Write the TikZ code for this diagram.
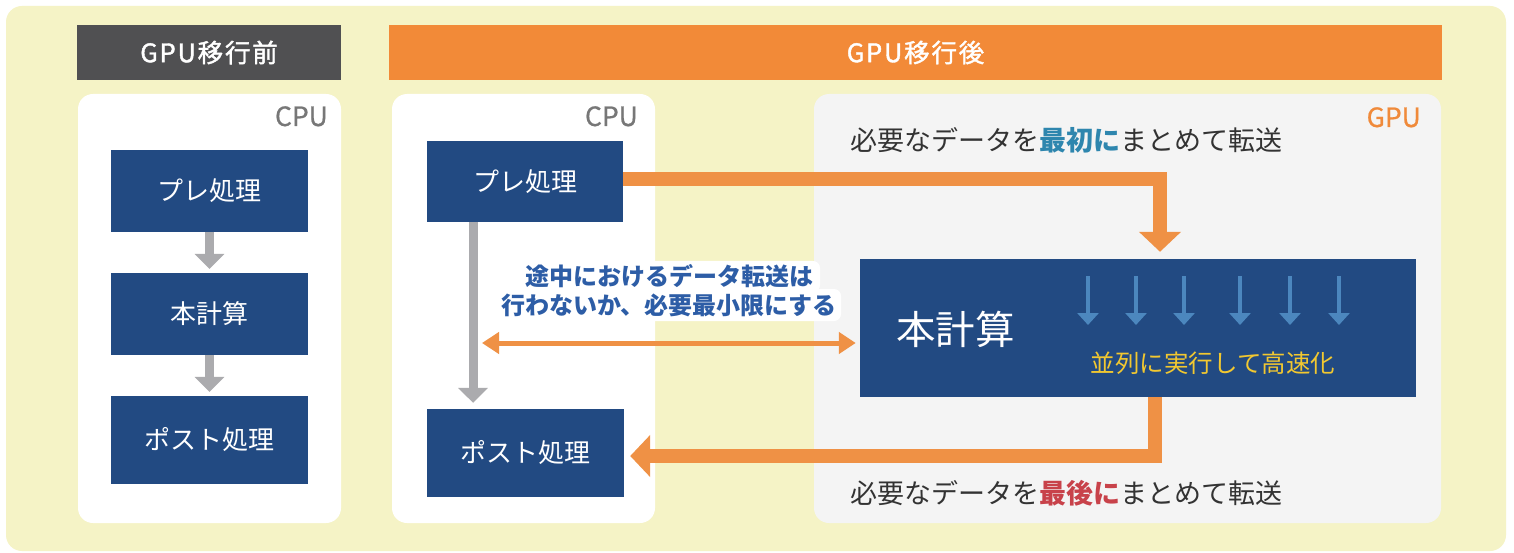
\documentclass[tikz,border=0pt]{standalone}
\usepackage{fontspec}
\setmainfont{Noto Sans CJK JP}
\newfontfamily\hdfont[LetterSpace=7,FakeBold=1.6]{Noto Sans CJK JP}
\newfontfamily\lblfont[FakeBold=0.8]{Noto Sans CJK JP}
\usetikzlibrary{arrows.meta,calc}
\definecolor{bgyellow}{HTML}{F5F3C6}
\definecolor{hdgray}{HTML}{505052}
\definecolor{hdorange}{HTML}{F28A38}
\definecolor{arrorange}{HTML}{EF9145}
\definecolor{boxblue}{HTML}{224A82}
\definecolor{panelgray}{HTML}{F4F4F4}
\definecolor{cpugray}{HTML}{777777}
\definecolor{gpuorange}{HTML}{F08A3A}
\definecolor{hlblue}{HTML}{2E86AE}
\definecolor{hlred}{HTML}{C8424A}
\definecolor{bodytext}{HTML}{333333}
\definecolor{lblblue}{HTML}{2D5DA6}
\definecolor{smallarrow}{HTML}{4C87BE}
\definecolor{speedyellow}{HTML}{F2C830}
\definecolor{arrgray}{HTML}{ABABAE}
\begin{document}
\begin{tikzpicture}[x=1pt,y=-1pt,
  header/.style={inner sep=0pt, text=white, font=\hdfont\fontsize{25.5}{30}\selectfont},
  panel/.style={rounded corners=15pt, inner sep=0pt},
  proclabel/.style={anchor=base east, inner sep=0pt, font=\lblfont\fontsize{26.5}{30}\selectfont},
  procbox/.style={fill=boxblue, text=white, inner sep=0pt, minimum width=197pt, font=\fontsize{26}{30}\selectfont},
  grayarrow/.style={draw=arrgray, line width=9pt, -{Triangle[length=15pt,width=29pt]}},
  orangearrow/.style={draw=arrorange, line width=14pt, line join=miter, -{Triangle[length=20pt,width=41pt]}},
  dblarrow/.style={draw=arrorange, line width=5pt, {Triangle[length=17pt,width=21pt]}-{Triangle[length=17pt,width=21pt]}},
  smallarr/.style={draw=smallarrow, line width=4pt, -{Triangle[length=12pt,width=21pt]}},
  bodylbl/.style={anchor=west, inner sep=0pt, text=bodytext, font=\fontsize{27}{32}\selectfont},
  xferlbl/.style={inner sep=0pt, align=center, font=\bfseries\fontsize{24}{29}\selectfont},
  halo/.style={fill=white, rounded corners=7pt}
]
\useasboundingbox (0,0) rectangle (1514,553);
\fill[white] (0,0) rectangle (1514,553);
\fill[bgyellow, rounded corners=16pt] (6,6) rectangle (1506,551);

% headers
\node[header, fill=hdgray, minimum width=264pt, minimum height=55pt] (hbefore) at (209,52.5) {GPU移行前};
\node[header, fill=hdorange, minimum width=1053pt, minimum height=55pt] (hafter) at (915.5,52.5) {GPU移行後};

% panels
\node[panel, fill=white, minimum width=263pt, minimum height=429pt] (cpu1) at (209.5,308.5) {};
\node[panel, fill=white, minimum width=263pt, minimum height=429pt] (cpu2) at (523.5,308.5) {};
\node[panel, fill=panelgray, minimum width=627pt, minimum height=429pt] (gpu) at (1127.5,308.5) {};

\node[proclabel, text=cpugray] (cpu1lbl) at (328,126) {CPU};
\node[proclabel, text=cpugray] (cpu2lbl) at (638,126) {CPU};
\node[proclabel, text=gpuorange] (gpulbl) at (1421,127) {GPU};

% left column
\node[procbox, minimum height=82pt] (pre1) at (209.5,191) {プレ処理};
\node[procbox, minimum height=82pt] (calc1) at (209.5,314) {本計算};
\node[procbox, minimum height=88pt] (post1) at (209.5,440) {ポスト処理};
\draw[grayarrow, shorten >=4pt] (pre1.south) -- (calc1.north);
\draw[grayarrow, shorten >=4pt] (calc1.south) -- (post1.north);

% middle column
\node[procbox, minimum width=196pt, minimum height=81pt] (pre2) at (525,181.5) {プレ処理};
\node[procbox, minimum width=197pt, minimum height=88pt] (post2) at (525.5,453) {ポスト処理};
\draw[grayarrow, shorten >=6pt] ([xshift=-52pt]pre2.south) -- ([xshift=-52.5pt]post2.north);

% GPU main box
\node[fill=boxblue, inner sep=0pt, minimum width=556pt, minimum height=138pt] (main) at (1138,328) {};
\node[anchor=west, inner sep=0pt, text=white, font=\fontsize{39.5}{44}\selectfont] (maintxt) at (896,329) {本計算};
\foreach \x in {1088,1136,1184,1240,1290,1339}
  \draw[smallarr] (\x,276) -- (\x,325);
\node[inner sep=0pt, text=speedyellow, font=\fontsize{24.5}{28}\selectfont] (speed) at (1213,363) {並列に実行して高速化};

% transfer texts
\node[bodylbl] (toptxt) at (850,140) {必要なデータを{\bfseries\color{hlblue}最初に}まとめて転送};
\node[bodylbl] (bottxt) at (850,493) {必要なデータを{\bfseries\color{hlred}最後に}まとめて転送};

% orange transfer arrows
\draw[orangearrow, shorten >=7pt] ([yshift=2.5pt]pre2.east) -| ([xshift=22pt]main.north);
\draw[orangearrow, shorten >=6pt] ([xshift=17pt]main.south) |- ([yshift=-3pt]post2.east);

% double arrow and its label (white halo behind the label)
\coordinate (dl) at (482,343);
\draw[dblarrow, shorten >=4pt] (dl) -- (main.west |- dl);
\fill[halo] (518,261) rectangle (820,292);
\fill[halo] (497,289) rectangle (841,321);
\node[xferlbl, text=lblblue] (xferlbl) at (669,290.5) {途中におけるデータ転送は\\行わないか、必要最小限にする};
\end{tikzpicture}
\end{document}
